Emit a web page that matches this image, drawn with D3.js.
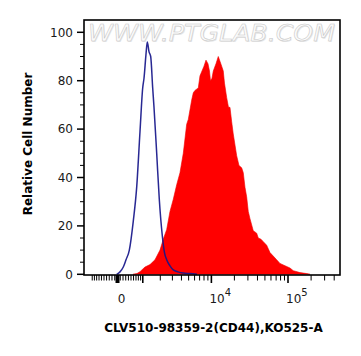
<!DOCTYPE html>
<html><head><meta charset="utf-8">
<script src="https://cdn.jsdelivr.net/npm/d3@7"></script>
<style>
html,body{margin:0;padding:0;background:#fff;}
svg{display:block;}
text{font-family:"DejaVu Sans",sans-serif;}
</style></head>
<body>
<svg id="chart" width="361" height="356"></svg>
<script>
// ---- data (fluorescence intensity, relative cell count) ----
const controlValues = [-30,90,210,310,435,590,730,873,996,1058,1156,1222,1310,1403,1516,1593,1760,1931,2144,2311,2488,2774,3088,3587,4236,5213,6461];
const controlCounts = [0,1,3,6,10,22,36,59,77,81,91,96,92,90,77,69,50,31,16,9,6,3.5,1.8,1,0.5,0.3,0];

const cd44Values = [578,743,873,1106,1364,1653,1980,2219,2488,2774,3088,3442,3820,4236,4708,4947,5493,5769,6078,6721,7078,7524,7995,8496,9026,9442,9731,10183,10592,11489,12312,12962,13643,14316,14843,15864,16740,17508,18432,19332,21420,22956,24888,26112,27480,28920,30336,31932,35256,39048,40980,44436,47604,52716,58212,71160,78576,106080,117120,143160,175080,193320];
const cd44Counts = [0,0.3,1.1,3,4,6,10,14.5,18.5,26,31,37,42,50,62,64,72,75,76,77,82,84,86,88.5,87,84,80,81,84,87,90,88,86,84,79,73,69,69,63,58,49,45,44,42,36,32,26,23,18,17,15,14.5,13.5,12,9,6,4.5,2.6,1.5,0.7,0.3,0];

const yTickValues = [0,20,40,60,80,100];
const yTickLabels = ["0","20","40","60","80","100"];
const yMinorValues = [5,10,15,25,30,35,45,50,55,65,70,75,85,90,95];
const xMajorValues = [0,1000,10000,100000];
const xLabelValues = [0,10000,100000];
const xLabelBase = ["0","10","10"];
const xLabelExp = ["","4","5"];
const xMinorValues = [-1000,-900,-800,-700,-600,-500,-400,-300,-200,-100,
  100,200,300,400,500,600,700,800,900,
  2000,3000,4000,5000,6000,7000,8000,9000,
  20000,30000,40000,50000,60000,70000,80000,90000,
  200000,300000,400000];
const xTitle = "CLV510-98359-2(CD44),KO525-A";
const yTitle = "Relative Cell Number";
const watermark = "WWW.PTGLAB.COM";

// ---- layout ----
const L = 84, R = 340, T = 20, B = 275;
const C = 1200;
const xLin = d3.scaleLinear().domain([Math.asinh(-1420 / C), Math.asinh(476000 / C)]).range([L, R]);
const x = v => xLin(Math.asinh(v / C));
const y = d3.scaleLinear().domain([0, 105]).range([274.3, 20.2]);

const svg = d3.select("#chart");

// watermark
svg.append("text").attr("x", 88).attr("y", 41)
  .attr("font-family", "'Liberation Sans', Arial, sans-serif")
  .attr("font-style", "italic").attr("font-size", 23)
  .attr("textLength", 247).attr("lengthAdjust", "spacingAndGlyphs")
  .attr("fill", "#e6e6e6").text(watermark)
  .attr("transform", "translate(0.8,0.8)");
svg.append("text").attr("x", 88).attr("y", 41)
  .attr("font-family", "'Liberation Sans', Arial, sans-serif")
  .attr("font-style", "italic").attr("font-size", 23)
  .attr("textLength", 247).attr("lengthAdjust", "spacingAndGlyphs")
  .attr("fill", "#fbfbfb").attr("stroke", "#c6c6c6").attr("stroke-width", 0.5)
  .text(watermark);

// red histogram
const cd44 = cd44Values.map((v, i) => [v, cd44Counts[i]]);
svg.append("path").datum(cd44)
  .attr("d", d3.area().x(d => x(d[0])).y0(y(0)).y1(d => y(d[1])))
  .attr("fill", "#ff0000").attr("stroke", "#f00000").attr("stroke-width", 0.6);

// blue control line
const ctrl = controlValues.map((v, i) => [v, controlCounts[i]]);
svg.append("path").datum(ctrl)
  .attr("d", d3.line().x(d => x(d[0])).y(d => y(d[1])).curve(d3.curveMonotoneX))
  .attr("fill", "none").attr("stroke", "#16168a").attr("stroke-width", 1.5)
  .attr("stroke-opacity", 0.92);

// frame
svg.append("rect").attr("x", L).attr("y", T).attr("width", R - L).attr("height", B - T)
  .attr("fill", "none").attr("stroke", "#000").attr("stroke-width", 1.6);

// y ticks
const gy = svg.append("g");
gy.selectAll("line.maj").data(yTickValues).join("line")
  .attr("x1", 77).attr("x2", L).attr("y1", d => y(d)).attr("y2", d => y(d))
  .attr("stroke", "#000").attr("stroke-width", 1.5);
gy.selectAll("line.min").data(yMinorValues).join("line").attr("class", "min")
  .attr("x1", 80).attr("x2", L).attr("y1", d => y(d)).attr("y2", d => y(d))
  .attr("stroke", "#000").attr("stroke-width", 1);
gy.selectAll("text").data(yTickValues).join("text")
  .attr("x", 73).attr("y", d => y(d)).attr("dy", "0.36em")
  .attr("text-anchor", "end").attr("font-size", 12).attr("fill", "#1a1a1a")
  .text((d, i) => yTickLabels[i]);

// x ticks
const gx = svg.append("g");
gx.selectAll("line.min").data(xMinorValues).join("line").attr("class", "min")
  .attr("x1", d => x(d)).attr("x2", d => x(d)).attr("y1", B).attr("y2", 280.5)
  .attr("stroke", "#000").attr("stroke-width", 1);
gx.selectAll("line.maj").data(xMajorValues).join("line").attr("class", "maj")
  .attr("x1", d => x(d)).attr("x2", d => x(d)).attr("y1", B).attr("y2", 283)
  .attr("stroke", "#000").attr("stroke-width", d => d === 0 ? 4 : 1.6);
const lab = gx.selectAll("text").data(xLabelValues).join("text")
  .attr("x", (d, i) => i === 0 ? x(d) + 4 : x(d) - 2)
  .attr("y", 303)
  .attr("text-anchor", (d, i) => i === 0 ? "middle" : "start")
  .attr("font-size", 12).attr("fill", "#1a1a1a");
lab.append("tspan").text((d, i) => xLabelBase[i]);
lab.append("tspan").attr("dy", -7).attr("font-size", 10).text((d, i) => xLabelExp[i]);

// titles
svg.append("text").attr("x", 213.5).attr("y", 332).attr("text-anchor", "middle")
  .attr("font-size", 12).attr("font-weight", "bold").attr("fill", "#000").text(xTitle);
svg.append("text").attr("transform", "translate(31.5,144) rotate(-90)")
  .attr("text-anchor", "middle").attr("font-size", 12).attr("font-weight", "bold")
  .attr("fill", "#000").text(yTitle);
</script>
</body></html>
